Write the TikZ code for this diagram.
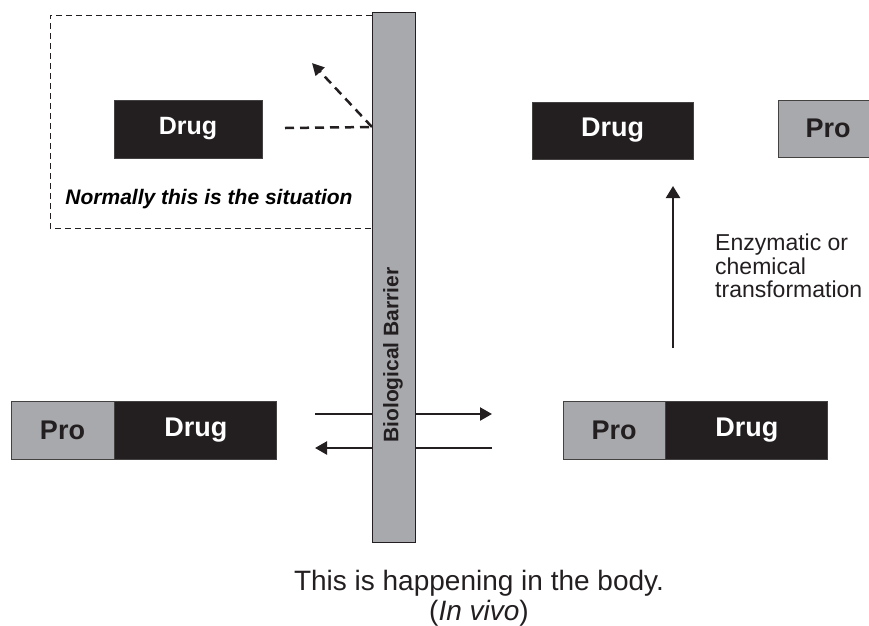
\documentclass[tikz,border=0pt]{standalone}
\usepackage{fontspec}
\setmainfont{Liberation Sans}
\usetikzlibrary{arrows.meta,positioning}
\definecolor{barGray}{HTML}{A7A9AC}
\definecolor{inkBlack}{HTML}{231F20}

\begin{document}
\begin{tikzpicture}[x=1pt, y=-1pt,
  blk/.style={draw=inkBlack!85, line width=0.8pt, minimum height=58pt, inner sep=0pt,
    font=\fontsize{27}{30}\selectfont\bfseries},
  drg/.style={blk, fill=inkBlack, text=white, minimum width=162pt},
  pro/.style={blk, fill=barGray, text=inkBlack, minimum width=103pt},
  mv/.style={-{Triangle[length=12pt,width=13pt]}, line width=2.3pt, draw=inkBlack},
  dsh/.style={dash pattern=on 9pt off 6pt, line width=2.5pt, draw=inkBlack},
  frm/.style={dash pattern=on 6pt off 4pt, line width=1pt, draw=inkBlack}]
\useasboundingbox (0,0) rectangle (869,625);
% normal case, drug alone
\coordinate (frmtr) at (372,15); \coordinate (frmbl) at (50,228);
\draw[frm] (frmtr) -| (frmbl) -- (frmbl -| frmtr);
\node[drg, minimum width=148pt, font=\fontsize{25}{28}\selectfont\bfseries] (drug0) at (188,129) {Drug};
\coordinate (dsh0) at (285,128); \coordinate (hit) at (372,127); \coordinate (bounce) at (312,63);
\draw[dsh] (dsh0) -- (hit);
\draw[dsh, -{Triangle[length=12pt,width=12pt]}] (hit) -- (bounce);
\node[anchor=base, font=\fontsize{21}{24}\selectfont\bfseries\itshape] (normtxt) at (209,204)
  {Normally this is the situation};
% crossing the barrier
\coordinate (inA) at (315,414); \coordinate (inB) at (492,414);
\coordinate (outA) at (492,448); \coordinate (outB) at (315,448);
\draw[mv] (inA) -- (inB);
\draw[mv] (outA) -- (outB);
\node[draw=inkBlack, line width=0.9pt, fill=barGray, minimum width=43pt, minimum height=530pt]
  (barrier) at (393.5,277) {};
\node[rotate=90, font=\fontsize{21}{24}\selectfont\bfseries, text=inkBlack] (barlbl) at (393,355)
  {Biological Barrier};
% prodrug outside and inside
\node[pro] (pro2) at (62.5,430) {Pro};
\node[drg, right=0pt of pro2] (drug2) {Drug};
\node[pro, minimum width=102pt] (pro3) at (614,430) {Pro};
\node[drg, right=0pt of pro3] (drug3) {Drug};
% released drug
\node[drg, minimum width=161pt, minimum height=57pt] (drug1) at (612.5,130.5) {Drug};
\node[pro, minimum width=100pt, minimum height=57pt] (pro1) at (828,128.5) {Pro};
\coordinate (rxA) at (673,348); \coordinate (rxB) at (673,186);
\draw[mv, -{Triangle[length=12pt,width=14pt]}] (rxA) -- (rxB);
\node[anchor=north west, inner sep=0pt, align=left, text=inkBlack,
  font=\fontsize{23}{23.5}\selectfont] (enz) at (715,234)
  {Enzymatic or\\chemical\\transformation};
\node[anchor=base, text=inkBlack, font=\fontsize{28}{30}\selectfont] (vivo1) at (479,590)
  {This is happening in the body.};
\node[anchor=base, text=inkBlack, font=\fontsize{28}{30}\selectfont] (vivo2) at (479,620)
  {(\textit{In vivo})};
\end{tikzpicture}
\end{document}
